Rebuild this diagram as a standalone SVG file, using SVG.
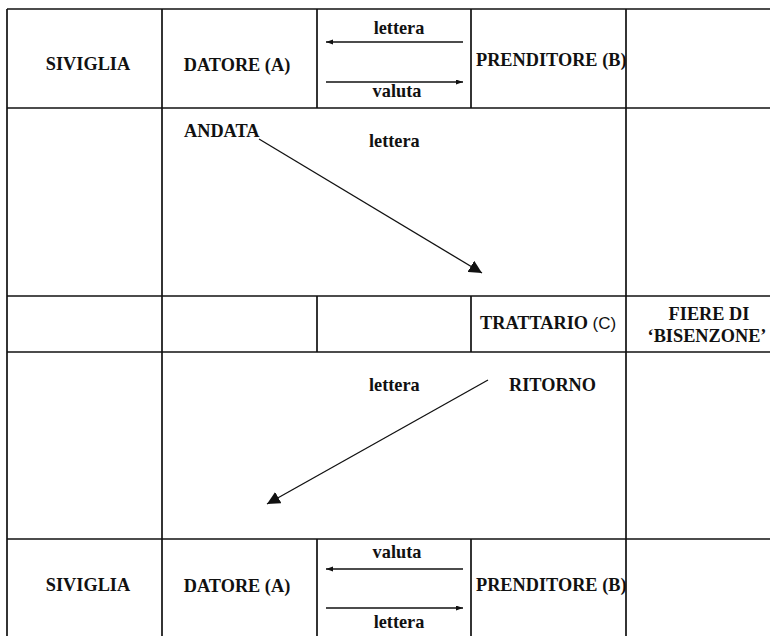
<svg xmlns="http://www.w3.org/2000/svg" width="770" height="636" viewBox="0 0 770 636">
<style>
.g{stroke:#111;stroke-width:1.7;fill:none}
.t{font-family:"Liberation Serif","Times New Roman",serif;font-weight:bold;font-size:18.3px;fill:#111}
.c{text-anchor:middle}
.a{stroke:#111;stroke-width:1.3;fill:none}
.s{font-family:"Liberation Sans",Arial,sans-serif;font-weight:normal;font-size:17px}
</style>
<defs>
<marker id="big" markerUnits="userSpaceOnUse" markerWidth="14" markerHeight="13" refX="13" refY="6.5" orient="auto"><path d="M0,0 L13,6.5 L0,13 z" fill="#111"/></marker>
<marker id="small" markerUnits="userSpaceOnUse" markerWidth="8" markerHeight="6" refX="7" refY="2.5" orient="auto"><path d="M0,0 L7,2.5 L0,5 z" fill="#111"/></marker>
</defs>
<rect width="770" height="636" fill="#fff"/>
<g id="grid" class="g">
<line x1="7" y1="9" x2="770" y2="9"/>
<line x1="7" y1="108" x2="770" y2="108"/>
<line x1="7" y1="296" x2="770" y2="296"/>
<line x1="7" y1="352" x2="770" y2="352"/>
<line x1="7" y1="539" x2="770" y2="539"/>
<line x1="7" y1="9" x2="7" y2="636"/>
<line x1="162" y1="9" x2="162" y2="636"/>
<line x1="626" y1="9" x2="626" y2="636"/>
<line x1="317" y1="9" x2="317" y2="108"/>
<line x1="471" y1="9" x2="471" y2="108"/>
<line x1="317" y1="296" x2="317" y2="352"/>
<line x1="471" y1="296" x2="471" y2="352"/>
<line x1="317" y1="539" x2="317" y2="636"/>
<line x1="471" y1="539" x2="471" y2="636"/>
</g>
<g id="siviglia-top"><text class="t c" x="88" y="70">SIVIGLIA</text></g>
<g id="datore-top"><text class="t c" x="237" y="71">DATORE (A)</text></g>
<g id="prenditore-top"><text class="t" x="476" y="66">PRENDITORE (B)</text></g>
<g id="andata"><text class="t" x="184" y="137">ANDATA</text></g>
<g id="lettera-andata"><text class="t" x="369" y="147">lettera</text></g>
<g id="trattario"><text class="t" x="480" y="329">TRATTARIO <tspan class="s">(C)</tspan></text></g>
<g id="fiere"><text class="t c" x="709" y="320">FIERE DI</text><text class="t c" x="707" y="342">‘BISENZONE’</text></g>
<g id="lettera-ritorno"><text class="t" x="369" y="391">lettera</text></g>
<g id="ritorno"><text class="t" x="509" y="391">RITORNO</text></g>
<g id="siviglia-bottom"><text class="t c" x="88" y="591">SIVIGLIA</text></g>
<g id="datore-bottom"><text class="t c" x="237" y="592">DATORE (A)</text></g>
<g id="prenditore-bottom"><text class="t" x="476" y="591">PRENDITORE (B)</text></g>
<g id="labels-top"><text class="t c" x="399" y="34">lettera</text><text class="t c" x="397" y="97">valuta</text></g>
<g id="labels-bottom"><text class="t c" x="397" y="558">valuta</text><text class="t c" x="399" y="628">lettera</text></g>
<g id="connectors">
<line class="a" x1="463" y1="42" x2="326" y2="42" marker-end="url(#small)"/>
<line class="a" x1="326" y1="82" x2="463" y2="82" marker-end="url(#small)"/>
<line class="a" x1="463" y1="569" x2="326" y2="569" marker-end="url(#small)"/>
<line class="a" x1="326" y1="608" x2="463" y2="608" marker-end="url(#small)"/>
<line class="a" x1="259" y1="139" x2="482" y2="273" marker-end="url(#big)"/>
<line class="a" x1="488" y1="380" x2="267" y2="504" marker-end="url(#big)"/>
</g>
</svg>
